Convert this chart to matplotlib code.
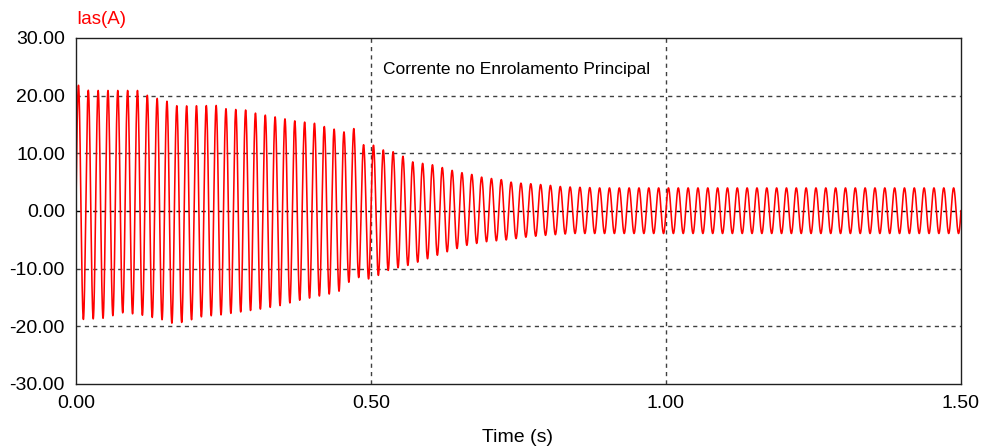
import numpy as np
import matplotlib
matplotlib.use("Agg")
from matplotlib import pyplot as plt

# Envelope of the current (peaks, in A)
upper_t = [0.0, 0.0045, 0.0215, 0.055, 0.105, 0.122, 0.155, 0.172, 0.239, 0.255,
           0.289, 0.306, 0.338, 0.372, 0.405, 0.422, 0.437, 0.454, 0.471, 0.488,
           0.505, 0.520, 0.537, 0.554, 0.571, 0.605, 0.622, 0.639, 0.656, 0.673,
           0.690, 0.707, 0.724, 0.741, 0.775, 0.808, 0.825, 0.888, 1.5]
upper_v = [21.8, 21.8, 20.9, 20.9, 20.9, 20.0, 19.0, 18.2, 18.3, 17.7,
           17.5, 16.9, 16.3, 15.6, 15.2, 14.6, 14.2, 13.7, 14.3, 11.4,
           11.4, 10.6, 10.3, 9.5, 8.5, 8.0, 7.5, 7.0, 6.6, 6.3,
           5.8, 5.6, 5.4, 4.9, 4.7, 4.4, 4.2, 4.0, 4.0]
lower_t = [0.0, 0.012, 0.047, 0.081, 0.114, 0.148, 0.164, 0.181, 0.214, 0.246,
           0.279, 0.313, 0.346, 0.378, 0.414, 0.429, 0.446, 0.463, 0.480, 0.497,
           0.514, 0.531, 0.564, 0.598, 0.631, 0.664, 0.697, 0.731, 0.765, 0.798,
           0.842, 1.5]
lower_v = [-18.8, -18.8, -18.6, -17.6, -18.1, -18.9, -19.5, -19.3, -18.3, -18.0,
           -17.5, -17.0, -16.4, -15.5, -14.7, -14.4, -13.9, -12.3, -11.5, -11.8,
           -11.1, -10.2, -9.4, -8.2, -7.0, -5.9, -5.3, -5.0, -4.5, -4.2,
           -3.9, -3.9]
freq = 60.0  # Hz, supply frequency

y_ticks = [-30, -20, -10, 0, 10, 20, 30]
x_ticks = [0.0, 0.5, 1.0, 1.5]

# Build the waveform from the envelope and the 60 Hz carrier
t = np.linspace(0, 1.5, 60001)
up = np.interp(t, upper_t, upper_v)
lo = np.interp(t, lower_t, lower_v)
ias = (up + lo) / 2 + (up - lo) / 2 * np.sin(2 * np.pi * freq * t)

plt.rcParams['font.family'] = ['Liberation Sans', 'DejaVu Sans']

fig = plt.figure(figsize=(9.81, 4.48), dpi=100)
ax = fig.add_axes([76 / 981, 1 - 384 / 448, (961 - 76) / 981, (384 - 38) / 448])

ax.plot(t, ias, color='#ff0000', lw=1.15)

ax.set_xlim(0, 1.5)
ax.set_ylim(-30, 30)
ax.set_xticks(x_ticks)
ax.set_yticks(y_ticks)
ax.set_xticklabels(['%.2f' % v for v in x_ticks])
ax.set_yticklabels(['%.2f' % v for v in y_ticks])
ax.tick_params(length=0, labelsize=14, pad=8)

# dashed grid, like the simulator view
for yv in y_ticks[1:-1]:
    ax.axhline(yv, color='#000000' if yv == 0 else '#404040', lw=1.0,
               ls=(0, (3, 3)), zorder=0)
for xv in x_ticks[1:-1]:
    ax.axvline(xv, color='#404040', lw=1.0, ls=(0, (3, 3)), zorder=0)

for s in ax.spines.values():
    s.set_color('#202020')
    s.set_linewidth(1.0)

ax.text(0.746, 24.6, 'Corrente no Enrolamento Principal', fontsize=12.5,
        ha='center', va='center')
fig.text(76 / 981, 1 - 20 / 448, 'Ias(A)', color='#ff0000', fontsize=13.5,
         ha='left', va='center')
fig.text(518 / 981, 1 - 437 / 448, 'Time (s)', fontsize=14,
         ha='center', va='center')

fig.savefig('out.png', dpi=100)
